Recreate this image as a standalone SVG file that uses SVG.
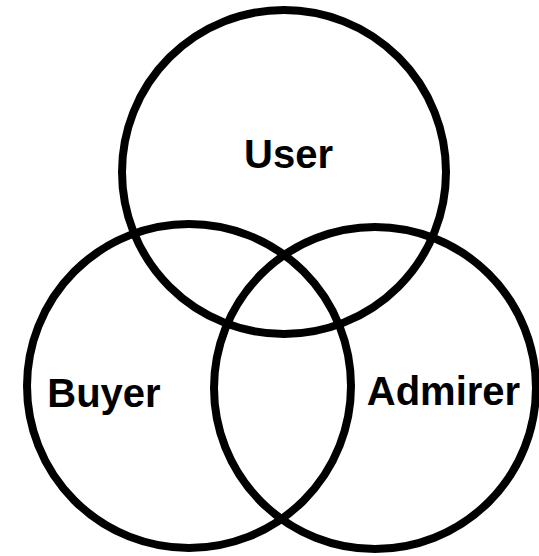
<svg xmlns="http://www.w3.org/2000/svg" width="539" height="556" viewBox="0 0 539 556">
<style>
.c{fill:none;stroke:#000;stroke-width:8}
.t{font-family:"Liberation Sans",Arial,sans-serif;font-weight:bold;font-size:40px;fill:#000;text-anchor:middle}
</style>
<rect width="539" height="556" fill="#fff"/>
<g id="user"><circle class="c" cx="284" cy="172" r="162"/><text class="t" x="288.5" y="168">User</text></g>
<g id="buyer"><circle class="c" cx="189" cy="386" r="162"/><text class="t" x="104" y="407">Buyer</text></g>
<g id="admirer"><circle class="c" cx="375" cy="388" r="161"/><text class="t" x="443.5" y="405">Admirer</text></g>
<g id="connectors"></g>
</svg>
